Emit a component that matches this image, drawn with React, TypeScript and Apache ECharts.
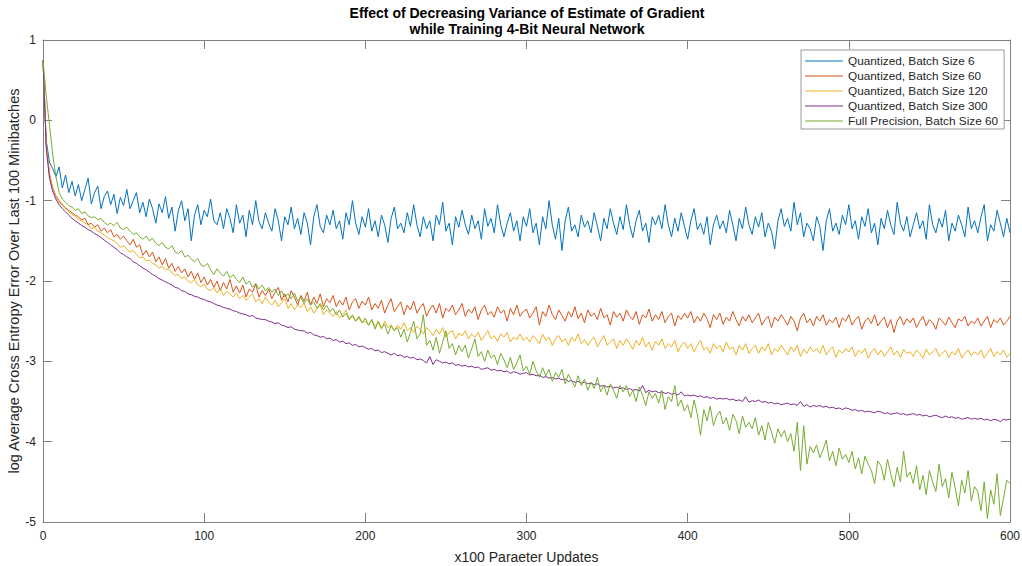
import React, { useEffect, useRef } from "react";
import * as echarts from "echarts";

// x step between consecutive values: 2 (x100 parameter updates), from 0 to 600
const seriesNames = [
  "Quantized, Batch Size 6",
  "Quantized, Batch Size 60",
  "Quantized, Batch Size 120",
  "Quantized, Batch Size 300",
  "Full Precision, Batch Size 60",
];

const xTicks = [0, 100, 200, 300, 400, 500, 600];
const yTicks = [-5, -4, -3, -2, -1, 0, 1];

const batch6 = [
  0.75, -0.25, -0.52, -0.6, -0.7, -0.58, -0.84, -0.68, -0.9, -0.76,
  -0.94, -0.8, -1.0, -0.86, -0.72, -1.04, -0.9, -0.82, -1.1, -0.95,
  -0.88, -1.05, -0.92, -1.16, -0.96, -1.06, -0.86, -1.1, -1.0, -0.9,
  -1.15, -1.02, -1.2, -0.98, -1.1, -1.28, -1.04, -1.15, -0.95, -1.22,
  -1.08, -1.38, -1.12, -1.0, -1.25, -1.1, -1.5, -1.18, -1.05, -1.3,
  -1.12, -1.2, -0.98, -1.25, -1.3, -1.15, -1.35, -1.1, -1.22, -1.4,
  -1.05, -1.28, -1.18, -1.45, -1.12, -1.3, -1.0, -1.26, -1.35, -1.15,
  -1.28, -1.38, -1.1, -1.25, -1.5, -1.2, -1.3, -1.08, -1.35, -1.22,
  -1.42, -1.15, -1.28, -1.55, -1.2, -1.05, -1.32, -1.4, -1.18, -1.3,
  -1.12, -1.35, -1.25, -1.48, -1.15, -1.3, -1.0, -1.28, -1.42, -1.2,
  -1.33, -1.1, -1.38, -1.25, -1.45, -1.18, -1.3, -1.52, -1.22, -1.08,
  -1.35, -1.28, -1.4, -1.15, -1.32, -1.05, -1.3, -1.45, -1.2, -1.35,
  -1.25, -1.5, -1.18, -1.3, -1.02, -1.38, -1.28, -1.55, -1.2, -1.33,
  -1.12, -1.3, -1.42, -1.18, -1.35, -1.25, -1.48, -1.1, -1.32, -1.22,
  -1.4, -1.05, -1.3, -1.45, -1.28, -1.15, -1.38, -1.25, -1.5, -1.2,
  -1.32, -1.1, -1.4, -1.28, -1.55, -1.2, -1.35, -1.0, -1.3, -1.48,
  -1.22, -1.62, -1.25, -1.08, -1.38, -1.3, -1.45, -1.18, -1.33, -1.25,
  -1.4, -1.15, -1.32, -1.5, -1.22, -1.35, -1.1, -1.28, -1.42, -1.2,
  -1.36, -1.05, -1.3, -1.46, -1.25, -1.12, -1.38, -1.28, -1.52, -1.2,
  -1.3, -1.18, -1.35, -1.05, -1.3, -1.45, -1.22, -1.38, -1.15, -1.32,
  -1.48, -1.25, -1.1, -1.36, -1.28, -1.42, -1.2, -1.55, -1.3, -1.18,
  -1.35, -1.25, -1.4, -1.12, -1.3, -1.5, -1.22, -1.35, -1.08, -1.3,
  -1.42, -1.2, -1.33, -1.15, -1.45, -1.28, -1.38, -1.6, -1.25, -1.1,
  -1.32, -1.22, -1.38, -1.02, -1.3, -1.15, -1.45, -1.28, -1.35, -1.5,
  -1.2, -1.32, -1.62, -1.25, -1.1, -1.38, -1.28, -1.42, -1.18, -1.3,
  -1.05, -1.35, -1.25, -1.48, -1.2, -1.32, -1.1, -1.4, -1.28, -1.55,
  -1.22, -1.35, -1.12, -1.3, -1.42, -1.02, -1.28, -1.38, -1.2, -1.45,
  -1.3, -1.15, -1.35, -1.25, -1.48, -1.05, -1.3, -1.4, -1.22, -1.33,
  -1.12, -1.5, -1.28, -1.38, -1.18, -1.3, -1.45, -1.08, -1.35, -1.25,
  -1.4, -1.2, -1.05, -1.5, -1.3, -1.38, -1.12, -1.28, -1.45, -1.22,
  -1.4,
];

const batch60 = [
  0.75, -0.3, -0.66, -0.84, -0.94, -1.0, -1.05, -1.09, -1.12, -1.15,
  -1.18, -1.2, -1.24, -1.22, -1.3, -1.28, -1.33, -1.3, -1.38, -1.34,
  -1.4, -1.36, -1.45, -1.42, -1.48, -1.44, -1.5, -1.55, -1.48, -1.58,
  -1.55, -1.68, -1.62, -1.7, -1.64, -1.76, -1.7, -1.8, -1.72, -1.84,
  -1.78, -1.88, -1.82, -1.9, -1.85, -1.95, -1.88, -1.98, -1.9, -2.02,
  -1.95, -2.05, -1.98, -2.08, -2.0, -2.12, -2.02, -2.1, -1.98, -2.14,
  -2.06, -2.15, -2.05, -2.2, -2.1, -2.14, -2.04, -2.2, -2.12, -2.18,
  -2.1, -2.22, -2.14, -2.08, -2.24, -2.16, -2.26, -2.12, -2.2, -2.3,
  -2.18, -2.25, -2.14, -2.3, -2.2, -2.28, -2.16, -2.32, -2.22, -2.27,
  -2.18, -2.32, -2.24, -2.3, -2.2, -2.36, -2.26, -2.22, -2.34, -2.25,
  -2.3, -2.2, -2.36, -2.28, -2.34, -2.24, -2.4, -2.3, -2.22, -2.38,
  -2.32, -2.26, -2.42, -2.3, -2.36, -2.25, -2.4, -2.33, -2.28, -2.44,
  -2.35, -2.3, -2.4, -2.28, -2.46, -2.34, -2.38, -2.3, -2.42, -2.36,
  -2.28, -2.44, -2.35, -2.4, -2.32, -2.48, -2.36, -2.3, -2.42, -2.38,
  -2.45, -2.32, -2.4, -2.36, -2.5, -2.34, -2.42, -2.3, -2.44, -2.38,
  -2.35, -2.46, -2.4, -2.32, -2.55, -2.38, -2.44, -2.3, -2.42, -2.48,
  -2.36, -2.43, -2.5, -2.38, -2.45, -2.32, -2.47, -2.4, -2.52, -2.36,
  -2.44, -2.4, -2.48, -2.34, -2.46, -2.42, -2.55, -2.38, -2.45, -2.4,
  -2.5, -2.36, -2.44, -2.48, -2.38, -2.54, -2.42, -2.46, -2.35, -2.5,
  -2.42, -2.48, -2.38, -2.52, -2.44, -2.4, -2.56, -2.43, -2.48, -2.4,
  -2.46, -2.38, -2.52, -2.44, -2.5, -2.4, -2.47, -2.58, -2.42, -2.48,
  -2.4, -2.54, -2.45, -2.5, -2.38, -2.48, -2.56, -2.44, -2.5, -2.42,
  -2.52, -2.46, -2.4, -2.55, -2.48, -2.44, -2.58, -2.45, -2.5, -2.42,
  -2.48, -2.55, -2.44, -2.5, -2.62, -2.46, -2.4, -2.52, -2.47, -2.56,
  -2.44, -2.5, -2.42, -2.55, -2.48, -2.52, -2.45, -2.58, -2.46, -2.5,
  -2.42, -2.55, -2.48, -2.44, -2.6, -2.5, -2.46, -2.53, -2.42, -2.56,
  -2.5, -2.45, -2.58, -2.48, -2.64, -2.5, -2.44, -2.55, -2.47, -2.52,
  -2.46, -2.58, -2.5, -2.44, -2.56, -2.48, -2.52, -2.6, -2.46, -2.5,
  -2.55, -2.45, -2.52, -2.58, -2.47, -2.5, -2.44, -2.56, -2.5, -2.53,
  -2.46, -2.56, -2.5, -2.44, -2.58, -2.48, -2.52, -2.46, -2.55, -2.5,
  -2.44,
];

const batch120 = [
  0.75, -0.3, -0.68, -0.85, -0.95, -1.02, -1.06, -1.1, -1.14, -1.17,
  -1.2, -1.23, -1.25, -1.28, -1.3, -1.35, -1.33, -1.38, -1.4, -1.43,
  -1.46, -1.48, -1.5, -1.53, -1.58, -1.56, -1.6, -1.64, -1.62, -1.67,
  -1.71, -1.7, -1.75, -1.74, -1.78, -1.8, -1.84, -1.82, -1.86, -1.85,
  -1.9, -1.93, -1.92, -1.97, -1.95, -2.0, -2.02, -1.98, -2.05, -2.07,
  -2.04, -2.1, -2.12, -2.08, -2.15, -2.1, -2.18, -2.13, -2.16, -2.2,
  -2.15, -2.22, -2.18, -2.24, -2.2, -2.16, -2.26, -2.22, -2.28, -2.2,
  -2.26, -2.3, -2.24, -2.32, -2.27, -2.22, -2.34, -2.28, -2.36, -2.3,
  -2.33, -2.28, -2.38, -2.32, -2.4, -2.35, -2.3, -2.42, -2.36, -2.4,
  -2.44, -2.38, -2.46, -2.42, -2.36, -2.48, -2.44, -2.5, -2.46, -2.52,
  -2.5, -2.55, -2.48, -2.56, -2.52, -2.6, -2.5, -2.58, -2.54, -2.62,
  -2.55, -2.6, -2.52, -2.62, -2.58, -2.64, -2.56, -2.6, -2.66, -2.58,
  -2.62, -2.68, -2.6, -2.66, -2.58, -2.7, -2.64, -2.62, -2.72, -2.65,
  -2.68, -2.62, -2.72, -2.66, -2.7, -2.64, -2.74, -2.68, -2.62, -2.72,
  -2.68, -2.75, -2.66, -2.7, -2.64, -2.76, -2.7, -2.73, -2.66, -2.74,
  -2.7, -2.76, -2.68, -2.72, -2.78, -2.66, -2.74, -2.7, -2.8, -2.72,
  -2.68, -2.76, -2.72, -2.8, -2.7, -2.75, -2.66, -2.78, -2.73, -2.8,
  -2.74, -2.7, -2.82, -2.75, -2.68, -2.8, -2.76, -2.72, -2.84, -2.74,
  -2.8, -2.72, -2.78, -2.85, -2.74, -2.8, -2.7, -2.82, -2.76, -2.86,
  -2.75, -2.8, -2.72, -2.84, -2.78, -2.82, -2.74, -2.88, -2.8, -2.76,
  -2.84, -2.78, -2.88, -2.8, -2.74, -2.86, -2.82, -2.9, -2.78, -2.84,
  -2.8, -2.88, -2.76, -2.85, -2.82, -2.92, -2.8, -2.86, -2.78, -2.9,
  -2.84, -2.8, -2.9, -2.82, -2.87, -2.78, -2.92, -2.84, -2.88, -2.8,
  -2.86, -2.92, -2.82, -2.88, -2.8, -2.94, -2.85, -2.9, -2.82, -2.88,
  -2.84, -2.9, -2.8, -2.92, -2.86, -2.82, -2.95, -2.86, -2.9, -2.84,
  -2.88, -2.82, -2.94, -2.86, -2.9, -2.84, -2.96, -2.88, -2.84, -2.92,
  -2.86, -2.94, -2.88, -2.82, -2.92, -2.87, -2.95, -2.85, -2.9, -2.88,
  -2.94, -2.86, -2.9, -2.96, -2.85, -2.92, -2.88, -2.84, -2.94, -2.9,
  -2.86, -2.95, -2.88, -2.92, -2.84, -2.96, -2.9, -2.86, -2.93, -2.88,
  -2.92, -2.86, -2.96, -2.9, -2.84, -2.94, -2.88, -2.92, -2.86, -2.95,
  -2.9,
];

const batch300 = [
  0.75, -0.35, -0.72, -0.88, -0.98, -1.05, -1.1, -1.14, -1.18, -1.22,
  -1.25, -1.28, -1.31, -1.33, -1.36, -1.38, -1.41, -1.43, -1.46, -1.49,
  -1.52, -1.55, -1.58, -1.61, -1.65, -1.67, -1.7, -1.72, -1.76, -1.78,
  -1.81, -1.84, -1.86, -1.89, -1.92, -1.94, -1.97, -1.99, -2.01, -2.03,
  -2.05, -2.08, -2.09, -2.12, -2.13, -2.16, -2.17, -2.19, -2.2, -2.22,
  -2.23, -2.25, -2.26, -2.28, -2.3, -2.31, -2.33, -2.34, -2.35, -2.37,
  -2.38, -2.4, -2.41, -2.42, -2.44, -2.43, -2.46, -2.47, -2.48, -2.48,
  -2.5, -2.51, -2.53, -2.52, -2.55, -2.56, -2.58, -2.57, -2.6, -2.61,
  -2.62, -2.62, -2.65, -2.64, -2.67, -2.68, -2.7, -2.69, -2.72, -2.71,
  -2.74, -2.73, -2.76, -2.75, -2.78, -2.77, -2.8, -2.79, -2.82, -2.81,
  -2.83, -2.85, -2.84, -2.87, -2.86, -2.89, -2.88, -2.9, -2.92, -2.9,
  -2.93, -2.92, -2.95, -2.94, -2.96, -2.95, -2.98, -2.97, -2.99, -3.02,
  -2.94, -3.04, -2.98, -3.0, -3.02, -3.01, -3.03, -3.02, -3.05, -3.04,
  -3.06, -3.05, -3.07, -3.06, -3.08, -3.07, -3.1, -3.09, -3.08, -3.11,
  -3.1, -3.12, -3.11, -3.13, -3.12, -3.15, -3.13, -3.14, -3.16, -3.15,
  -3.14, -3.17, -3.16, -3.18, -3.17, -3.2, -3.19, -3.21, -3.2, -3.22,
  -3.21, -3.23, -3.22, -3.25, -3.24, -3.26, -3.25, -3.27, -3.26, -3.28,
  -3.27, -3.29, -3.28, -3.31, -3.3, -3.32, -3.31, -3.33, -3.32, -3.34,
  -3.33, -3.35, -3.34, -3.36, -3.35, -3.37, -3.3, -3.39, -3.36, -3.38,
  -3.37, -3.39, -3.38, -3.4, -3.39, -3.41, -3.4, -3.42, -3.38, -3.43,
  -3.42, -3.43, -3.42, -3.44, -3.43, -3.45, -3.44, -3.46, -3.45, -3.47,
  -3.46, -3.47, -3.46, -3.48, -3.47, -3.49, -3.48, -3.5, -3.44, -3.51,
  -3.49, -3.5, -3.48, -3.51, -3.5, -3.52, -3.51, -3.53, -3.52, -3.54,
  -3.53, -3.52, -3.54, -3.53, -3.55, -3.5, -3.56, -3.54, -3.57, -3.55,
  -3.56, -3.55, -3.57, -3.56, -3.58, -3.57, -3.59, -3.58, -3.6, -3.58,
  -3.59, -3.61, -3.6, -3.62, -3.61, -3.63, -3.62, -3.63, -3.64, -3.62,
  -3.63, -3.65, -3.64, -3.66, -3.65, -3.64, -3.66, -3.65, -3.67, -3.66,
  -3.65, -3.67, -3.66, -3.68, -3.67, -3.69, -3.68, -3.67, -3.69, -3.7,
  -3.68, -3.7, -3.69, -3.71, -3.7, -3.72, -3.71, -3.7, -3.72, -3.71,
  -3.72, -3.71, -3.73, -3.72, -3.74, -3.72, -3.73, -3.75, -3.72, -3.73,
  -3.72,
];

const fullPrecision60 = [
  0.75, 0.3, -0.05, -0.42, -0.7, -0.9, -0.98, -1.02, -1.06, -1.08,
  -1.12, -1.1, -1.16, -1.14, -1.19, -1.21, -1.2, -1.24, -1.22, -1.27,
  -1.3, -1.28, -1.31, -1.27, -1.34, -1.36, -1.33, -1.38, -1.42, -1.4,
  -1.45, -1.48, -1.44, -1.5, -1.47, -1.53, -1.56, -1.52, -1.58, -1.6,
  -1.56, -1.64, -1.66, -1.62, -1.7, -1.68, -1.73, -1.76, -1.72, -1.8,
  -1.82, -1.78, -1.86, -1.92, -1.85, -1.9, -1.94, -1.88, -1.96, -1.92,
  -1.98, -2.02, -1.95, -2.04, -2.0, -2.08, -2.03, -2.1, -2.05, -2.12,
  -2.08, -2.14, -2.1, -2.18, -2.12, -2.2, -2.16, -2.22, -2.15, -2.25,
  -2.2, -2.28, -2.22, -2.3, -2.26, -2.34, -2.28, -2.36, -2.3, -2.38,
  -2.34, -2.42, -2.36, -2.45, -2.4, -2.48, -2.42, -2.5, -2.44, -2.52,
  -2.46, -2.55, -2.48, -2.6, -2.5, -2.58, -2.54, -2.66, -2.56, -2.62,
  -2.58, -2.7, -2.6, -2.76, -2.64, -2.5, -2.72, -2.66, -2.42, -2.8,
  -2.74, -2.86, -2.7, -2.9, -2.76, -2.62, -2.84, -2.78, -2.92, -2.8,
  -2.88, -2.8, -2.96, -2.84, -2.72, -2.94, -2.88, -3.0, -2.86, -2.96,
  -2.92, -3.04, -2.9, -2.98, -3.08, -2.95, -3.1, -3.02, -2.92, -3.12,
  -3.06, -3.16, -3.0, -3.12, -3.2, -3.08, -3.18, -3.1, -3.25, -3.14,
  -3.2, -3.1, -3.28, -3.16, -3.24, -3.32, -3.18, -3.3, -3.22, -3.36,
  -3.26, -3.34, -3.2, -3.38, -3.3, -3.42, -3.28, -3.36, -3.46, -3.3,
  -3.38, -3.3, -3.44, -3.36, -3.5, -3.32, -3.42, -3.55, -3.38, -3.46,
  -3.4, -3.52, -3.36, -3.6, -3.44, -3.5, -3.3, -3.56, -3.48, -3.62,
  -3.54, -3.7, -3.48, -3.66, -3.92, -3.6, -3.74, -3.56, -3.8, -3.68,
  -3.62, -3.78, -3.7, -3.86, -3.66, -3.74, -3.9, -3.68, -3.82, -3.76,
  -3.84, -3.7, -3.92, -3.8, -3.98, -3.76, -3.88, -4.02, -3.84, -3.94,
  -3.86, -4.0, -3.9, -4.12, -3.76, -4.36, -3.8, -4.28, -4.06, -4.14,
  -4.04, -4.2, -4.1, -3.98, -4.24, -4.12, -4.3, -4.08, -4.22, -4.16,
  -4.26, -4.12, -4.34, -4.2, -4.4, -4.18, -4.28, -4.36, -4.52, -4.24,
  -4.3, -4.48, -4.22, -4.4, -4.56, -4.32, -4.5, -4.12, -4.44, -4.38,
  -4.52, -4.3, -4.6, -4.42, -4.66, -4.36, -4.5, -4.62, -4.28, -4.56,
  -4.46, -4.7, -4.38, -4.58, -4.8, -4.48, -4.64, -4.36, -4.74, -4.56,
  -4.62, -4.86, -4.5, -4.96, -4.6, -4.78, -4.4, -4.92, -4.7, -4.48,
  -4.52,
];

const allValues = [batch6, batch60, batch120, batch300, fullPrecision60];
const colors = ["#0072BD", "#D95319", "#EDB120", "#7E2F8E", "#77AC30"];
const xStep = 2;

const FONT = "'Liberation Sans', Arial, Helvetica, sans-serif";
const AXIS_COLOR = "#808080";
const LABEL_COLOR = "#262626";

export default function App() {
  const ref = useRef<HTMLDivElement>(null);

  useEffect(() => {
    if (!ref.current) return;
    const chart = echarts.init(ref.current, undefined, { renderer: "svg" });

    const axisCommon = {
      type: "value" as const,
      axisLine: { show: true, onZero: false, lineStyle: { color: AXIS_COLOR, width: 1 } },
      axisTick: { show: true, inside: true, length: 9, lineStyle: { color: AXIS_COLOR, width: 1 } },
      splitLine: { show: false },
    };

    const option: any = {
      animation: false,
      backgroundColor: "#ffffff",
      textStyle: { fontFamily: FONT },
      title: {
        text: "Effect of Decreasing Variance of Estimate of Gradient\nwhile Training 4-Bit Neural Network",
        left: 527,
        top: 5,
        padding: 0,
        textAlign: "center",
        textStyle: {
          fontFamily: FONT,
          fontSize: 14,
          fontWeight: "bold",
          lineHeight: 16,
          color: "#000000",
        },
      },
      grid: {
        left: 43,
        top: 40,
        width: 967,
        height: 482,
        containLabel: false,
        outerBoundsMode: "none",
      },
      legend: {
        orient: "vertical",
        left: 801,
        top: 50,
        padding: [4, 6, 1, 4],
        icon: "rect",
        itemWidth: 38,
        itemHeight: 1,
        itemGap: 1,
        backgroundColor: "#ffffff",
        borderColor: "#9a9a9a",
        borderWidth: 1,
        textStyle: { fontFamily: FONT, fontSize: 11.8, color: LABEL_COLOR, lineHeight: 14 },
        data: seriesNames,
      },
      xAxis: [
        {
          ...axisCommon,
          position: "bottom",
          min: xTicks[0],
          max: xTicks[xTicks.length - 1],
          interval: xTicks[1] - xTicks[0],
          name: "x100 Paraeter Updates",
          nameLocation: "middle",
          nameGap: 28,
          nameTextStyle: { fontFamily: FONT, fontSize: 14, color: LABEL_COLOR },
          axisLabel: { show: true, margin: 8, fontFamily: FONT, fontSize: 12, color: LABEL_COLOR },
        },
        {
          ...axisCommon,
          position: "top",
          min: xTicks[0],
          max: xTicks[xTicks.length - 1],
          interval: xTicks[1] - xTicks[0],
          axisLabel: { show: false },
        },
      ],
      yAxis: [
        {
          ...axisCommon,
          position: "left",
          min: yTicks[0],
          max: yTicks[yTicks.length - 1],
          interval: 1,
          name: "log Average Cross Entropy Error Over Last 100 Minibatches",
          nameLocation: "middle",
          nameGap: 22,
          nameMoveOverlap: false,
          nameTextStyle: { fontFamily: FONT, fontSize: 14.5, color: LABEL_COLOR },
          axisLabel: { show: true, margin: 7, fontFamily: FONT, fontSize: 12, color: LABEL_COLOR },
        },
        {
          ...axisCommon,
          position: "right",
          min: yTicks[0],
          max: yTicks[yTicks.length - 1],
          interval: 1,
          axisLabel: { show: false },
        },
      ],
      series: allValues.map((vals, si) => ({
        name: seriesNames[si],
        type: "line",
        xAxisIndex: 0,
        yAxisIndex: 0,
        symbol: "none",
        showSymbol: false,
        smooth: false,
        lineStyle: { color: colors[si], width: 1 },
        itemStyle: { color: colors[si] },
        emphasis: { disabled: true },
        data: vals.map((v, i) => [i * xStep, v]),
      })),
    };

    chart.setOption(option);
    return () => chart.dispose();
  }, []);

  return (
    <div
      ref={ref}
      style={{ position: "absolute", left: 0, top: 0, width: 1022, height: 566, background: "#fff" }}
    />
  );
}
